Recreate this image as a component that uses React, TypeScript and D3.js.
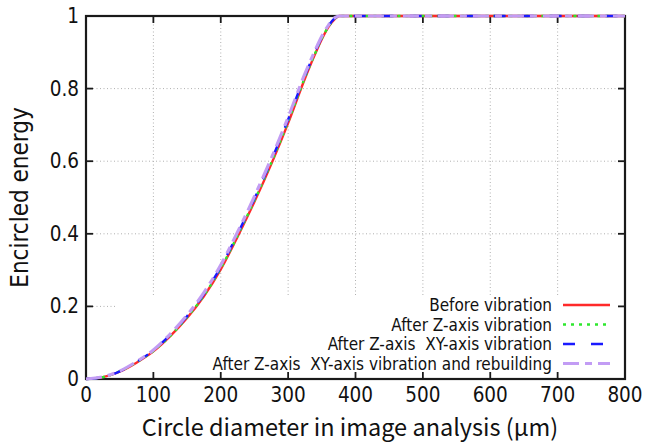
import React from "react";
import * as d3 from "d3";

const diameters = [0, 25, 50, 75, 100, 125, 150, 175, 200, 225, 250, 275, 300, 325, 340, 350, 360, 370, 376, 400, 500, 600, 700, 800];
const beforeVib = [0, 0.005, 0.02, 0.045, 0.076, 0.118, 0.168, 0.228, 0.302, 0.392, 0.488, 0.592, 0.705, 0.828, 0.895, 0.936, 0.97, 0.993, 1, 1, 1, 1, 1, 1];
const afterZ = [0, 0.005, 0.021, 0.046, 0.077, 0.119, 0.170, 0.230, 0.305, 0.395, 0.492, 0.596, 0.709, 0.831, 0.897, 0.938, 0.971, 0.994, 1, 1, 1, 1, 1, 1];
const afterZXY = [0, 0.005, 0.021, 0.047, 0.079, 0.122, 0.173, 0.234, 0.309, 0.400, 0.497, 0.602, 0.715, 0.836, 0.901, 0.941, 0.973, 0.995, 1, 1, 1, 1, 1, 1];
const afterRebuild = [0, 0.006, 0.022, 0.048, 0.080, 0.124, 0.176, 0.238, 0.314, 0.405, 0.503, 0.608, 0.721, 0.841, 0.905, 0.944, 0.975, 0.996, 1, 1, 1, 1, 1, 1];

const xTicks = [0, 100, 200, 300, 400, 500, 600, 700, 800];
const yTicks = [0, 0.2, 0.4, 0.6, 0.8, 1];
const yTickLabels = ["0", "0.2", "0.4", "0.6", "0.8", "1"];

const seriesNames = [
  "Before vibration",
  "After Z-axis vibration",
  "After Z-axis\u00a0\u00a0XY-axis vibration",
  "After Z-axis\u00a0\u00a0XY-axis vibration and rebuilding",
];
const seriesValues = [beforeVib, afterZ, afterZXY, afterRebuild];
const seriesColors = ["#ff2a2a", "#2ee82e", "#1a1aff", "#c29cf4"];
const seriesDash = ["", "3,5", "12,16", "16,6,7,6"];
const seriesWidth = [2.4, 2.4, 2.4, 3.2];

const W = 648;
const H = 444;
const M = { l: 86, t: 16, r: 23, b: 65 };
const FONT = "'DejaVu Sans Condensed', 'DejaVu Sans', sans-serif";

export default function App() {
  const x = d3.scaleLinear().domain([0, 800]).range([M.l, W - M.r]);
  const y = d3.scaleLinear().domain([0, 1]).range([H - M.b, M.t]);
  const line = d3
    .line<number>()
    .x((_, i) => x(diameters[i]))
    .y((d) => y(d))
    .curve(d3.curveMonotoneX);

  const x0 = x(0), x1 = x(800), y0 = y(0), y1 = y(1);
  const legendTop = 297;
  const legendLeft = 117;
  const legendRowY = [305, 324.5, 344, 363.5];

  return (
    <svg
      width={W}
      height={H}
      style={{ position: "fixed", left: 0, top: 0, background: "#fff" }}
      fontFamily={FONT}
    >
      <rect x={0} y={0} width={W} height={H} fill="#fff" />
      {/* grid */}
      <g stroke="#b0b0b0" strokeWidth={1} strokeDasharray="1,2.5">
        {xTicks.slice(1, -1).map((t) => (
          <line key={"gx" + t} x1={x(t)} x2={x(t)} y1={y0} y2={y1} />
        ))}
        {yTicks.slice(1, -1).map((t) => (
          <line key={"gy" + t} x1={x0} x2={x1} y1={y(t)} y2={y(t)} />
        ))}
      </g>
      {/* opaque key area */}
      <rect x={legendLeft} y={legendTop} width={x1 - legendLeft} height={y0 - legendTop} fill="#fff" />
      {/* frame & ticks */}
      <g stroke="#1a1a1a" strokeWidth={1.8}>
        <rect x={x0} y={y1} width={x1 - x0} height={y0 - y1} fill="none" strokeWidth={2.2} />
        {xTicks.map((t) => (
          <g key={"tx" + t}>
            <line x1={x(t)} x2={x(t)} y1={y0} y2={y0 - 7} />
            <line x1={x(t)} x2={x(t)} y1={y1} y2={y1 + 7} />
          </g>
        ))}
        {yTicks.map((t) => (
          <g key={"ty" + t}>
            <line x1={x0} x2={x0 + 7} y1={y(t)} y2={y(t)} />
            <line x1={x1} x2={x1 - 7} y1={y(t)} y2={y(t)} />
          </g>
        ))}
      </g>
      {/* tick labels */}
      <g fill="#111" fontSize={20.5}>
        {yTicks.map((t, i) => (
          <text key={"ly" + t} x={x0 - 7} y={y(t)} textAnchor="end" dominantBaseline="central">
            {yTickLabels[i]}
          </text>
        ))}
        {xTicks.map((t) => (
          <text key={"lx" + t} x={x(t)} y={402} textAnchor="middle">
            {String(t)}
          </text>
        ))}
      </g>
      {/* axis titles */}
      <text
        transform={`translate(28,${(y0 + y1) / 2}) rotate(-90)`}
        textAnchor="middle"
        fontSize={24}
        fill="#111"
      >
        Encircled energy
      </text>
      <text
        x={350}
        y={436}
        textAnchor="middle"
        fontSize={23.5}
        fill="#111"
        fontFamily="'Noto Sans CJK JP', sans-serif"
      >
        Circle diameter in image analysis (μm)
      </text>
      {/* curves */}
      <g fill="none">
        {seriesValues.map((vals, i) => (
          <path
            key={"s" + i}
            d={line(vals) || ""}
            stroke={seriesColors[i]}
            strokeWidth={seriesWidth[i]}
            strokeDasharray={seriesDash[i] || undefined}
          />
        ))}
      </g>
      {/* legend */}
      <g fontSize={17} fill="#111">
        {seriesNames.map((n, i) => (
          <g key={"lg" + i}>
            <text x={552} y={legendRowY[i]} textAnchor="end" dominantBaseline="central">
              {n}
            </text>
            <line
              x1={563}
              x2={610}
              y1={legendRowY[i]}
              y2={legendRowY[i]}
              stroke={seriesColors[i]}
              strokeWidth={seriesWidth[i]}
              strokeDasharray={seriesDash[i] || undefined}
            />
          </g>
        ))}
      </g>
    </svg>
  );
}
